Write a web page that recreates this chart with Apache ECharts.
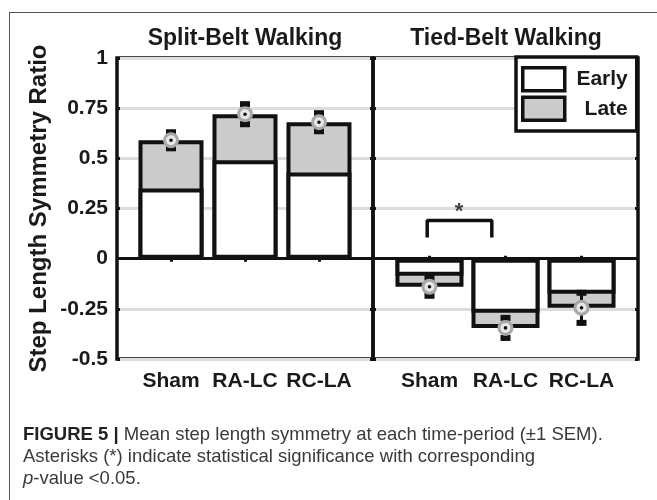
<!doctype html>
<html>
<head>
<meta charset="utf-8">
<title>Step length symmetry</title>
<script src="https://cdn.jsdelivr.net/npm/echarts@6/dist/echarts.min.js"></script>
<style>
  html, body { margin: 0; padding: 0; background: #fff; }
  #main { width: 657px; height: 500px; }
</style>
</head>
<body>
<div id="main"></div>
<script>
  // groups and axis ticks
  var groups = ['Sham', 'RA-LC', 'RC-LA'];
  var groupPos = [1, 2, 3];
  var yTicks = [-0.5, -0.25, 0, 0.25, 0.5, 0.75, 1];

  // split-belt walking: early / late means and SEM of late
  var splitEarly = [0.35, 0.49, 0.43];
  var splitLate = [0.59, 0.72, 0.68];
  var splitSem = [0.045, 0.055, 0.05];

  // tied-belt walking
  var tiedEarly = [-0.085, -0.27, -0.175];
  var tiedLate = [-0.14, -0.345, -0.245];
  var tiedSem = [0.05, 0.055, 0.08];

  // significance bracket (tied, Sham vs RA-LC)
  var bracketX = [0.97, 1.82];
  var bracketY = [0.105, 0.19];
  var starAt = [1.39, 0.235];

  var FONT = '"Liberation Sans", Arial, Helvetica, sans-serif';
  var INK = '#111';
  var TXT = '#1a1a1a';

  function pairs(vals) {
    return vals.map(function (v, i) { return [groupPos[i], v]; });
  }
  function errData(means, sems) {
    return means.map(function (m, i) { return [groupPos[i], m, sems[i]]; });
  }

  function errRender(params, api) {
    var x = api.value(0), m = api.value(1), s = api.value(2);
    var top = api.coord([x, m + s]);
    var bot = api.coord([x, m - s]);
    var mid = api.coord([x, m]);
    return {
      type: 'group',
      children: [
        { type: 'line', shape: { x1: top[0], y1: top[1], x2: bot[0], y2: bot[1] }, style: { stroke: INK, lineWidth: 3 } },
        { type: 'rect', shape: { x: top[0] - 5, y: top[1] - 2, width: 10, height: 6 }, style: { fill: INK } },
        { type: 'rect', shape: { x: bot[0] - 5, y: bot[1] - 4, width: 10, height: 6 }, style: { fill: INK } },
        { type: 'circle', shape: { cx: mid[0], cy: mid[1], r: 6.5 }, style: { fill: '#e8e8e8', stroke: '#a8a8a8', lineWidth: 3 } },
        { type: 'circle', shape: { cx: mid[0], cy: mid[1], r: 1.8 }, style: { fill: INK } }
      ]
    };
  }

  function xAx(grid, min, max, pos, labels) {
    return {
      type: 'value', gridIndex: grid, position: pos, min: min, max: max,
      axisLine: { show: false },
      splitLine: { show: false },
      axisTick: { show: true, inside: true, length: 3, customValues: groupPos, lineStyle: { color: INK, width: 3 } },
      axisLabel: {
        show: labels, customValues: groupPos, margin: 12,
        fontSize: 21, fontWeight: 'bold', fontFamily: FONT, color: TXT,
        formatter: function (v) { return groups[Math.round(v) - 1]; }
      }
    };
  }

  function yAx(grid, pos, labels, split) {
    var a = {
      type: 'value', gridIndex: grid, position: pos,
      min: yTicks[0], max: yTicks[yTicks.length - 1], interval: 0.25,
      axisLine: { show: false },
      axisTick: { show: true, inside: true, length: 3, lineStyle: { color: INK, width: 3 } },
      splitLine: { show: split, lineStyle: { color: '#dcdcdc', width: 3 } },
      axisLabel: { show: labels, margin: 9, fontSize: 21, fontWeight: 'bold', fontFamily: FONT, color: TXT }
    };
    if (labels) {
      a.name = 'Step Length Symmetry Ratio';
      a.nameLocation = 'middle';
      a.nameGap = 66;
      a.nameTextStyle = { fontSize: 24, fontWeight: 'bold', fontFamily: FONT, color: TXT };
    }
    return a;
  }

  var zeroLine = {
    silent: true, symbol: ['none', 'none'],
    label: { show: false },
    lineStyle: { color: INK, width: 3, type: 'solid' },
    data: [{ yAxis: 0 }]
  };

  function panelSeries(idx, early, late, sem, bw) {
    return [
      {
        name: 'Late', type: 'bar', xAxisIndex: idx, yAxisIndex: idx,
        barWidth: bw, barGap: '-100%', data: pairs(late),
        itemStyle: { color: '#cbcbcb', borderColor: INK, borderWidth: 4 }
      },
      {
        name: 'Early', type: 'bar', xAxisIndex: idx, yAxisIndex: idx,
        barWidth: bw, barGap: '-100%', data: pairs(early),
        itemStyle: { color: '#ffffff', borderColor: INK, borderWidth: 4 },
        markLine: zeroLine
      },
      {
        type: 'custom', xAxisIndex: idx, yAxisIndex: idx, clip: false, z: 5,
        data: errData(late, sem), renderItem: errRender
      }
    ];
  }

  var series = panelSeries(0, splitEarly, splitLate, splitSem, 65)
    .concat(panelSeries(1, tiedEarly, tiedLate, tiedSem, 68));

  series.push({
    type: 'line', xAxisIndex: 1, yAxisIndex: 1, symbol: 'none', silent: true,
    lineStyle: { color: INK, width: 3.5 },
    data: [[bracketX[0], bracketY[0]], [bracketX[0], bracketY[1]], [bracketX[1], bracketY[1]], [bracketX[1], bracketY[0]]]
  });
  series.push({
    type: 'scatter', xAxisIndex: 1, yAxisIndex: 1, symbolSize: 0, silent: true,
    data: [starAt],
    label: { show: true, position: 'inside', formatter: '*', fontSize: 22, fontWeight: 'bold', fontFamily: FONT, color: INK }
  });

  var chart = echarts.init(document.getElementById('main'));
  chart.setOption({
    animation: false,
    backgroundColor: '#fff',
    title: [
      { text: 'Split-Belt Walking', left: 245, top: 27, textAlign: 'center', padding: 0,
        textStyle: { fontSize: 23, fontWeight: 'bold', fontFamily: FONT, color: TXT } },
      { text: 'Tied-Belt Walking', left: 506, top: 27, textAlign: 'center', padding: 0,
        textStyle: { fontSize: 23, fontWeight: 'bold', fontFamily: FONT, color: TXT } }
    ],
    grid: [
      { left: 117, top: 58, width: 256, height: 301, show: true, borderColor: INK, borderWidth: 3.5, backgroundColor: 'transparent' },
      { left: 373, top: 58, width: 265, height: 301, show: true, borderColor: INK, borderWidth: 3.5, backgroundColor: 'transparent' }
    ],
    xAxis: [
      xAx(0, 0.27, 3.73, 'bottom', true),
      xAx(1, 0.257, 3.743, 'bottom', true),
      xAx(0, 0.27, 3.73, 'top', false),
      xAx(1, 0.257, 3.743, 'top', false)
    ],
    yAxis: [
      yAx(0, 'left', true, true),
      yAx(1, 'left', false, true),
      yAx(0, 'right', false, false),
      yAx(1, 'right', false, false)
    ],
    legend: {
      data: ['Early', 'Late'],
      orient: 'vertical', left: 516, top: 57,
      padding: [9, 9, 9, 5], itemGap: 3, itemWidth: 42, itemHeight: 23, itemTextGap: 4,
      icon: 'rect', selectedMode: false,
      borderColor: INK, borderWidth: 3.5, backgroundColor: '#fff',
      itemStyle: { borderColor: INK, borderWidth: 3.5 },
      formatter: function (name) { return '{r|' + name + '}'; },
      textStyle: {
        fontSize: 21, fontWeight: 'bold', fontFamily: FONT, color: TXT,
        rich: { r: { width: 58, align: 'right', fontSize: 21, fontWeight: 'bold', fontFamily: FONT, color: TXT } }
      }
    },
    graphic: [
      { type: 'line', shape: { x1: 9, y1: 12.5, x2: 657, y2: 12.5 }, style: { stroke: '#555', lineWidth: 1 } },
      { type: 'line', shape: { x1: 9.5, y1: 12, x2: 9.5, y2: 500 }, style: { stroke: '#555', lineWidth: 1 } },
      {
        type: 'text', left: 23, top: 424,
        style: {
          text: '{b|FIGURE 5 | }Mean step length symmetry at each time-period (\u00b11 SEM).\n' +
                'Asterisks (*) indicate statistical significance with corresponding\n' +
                '{i|p}-value <0.05.',
          font: '18.5px ' + FONT, fill: '#3a3a3a', lineHeight: 22,
          rich: {
            b: { fontWeight: 'bold', fontSize: 18.5, fontFamily: FONT, fill: '#222', lineHeight: 22 },
            i: { fontStyle: 'italic', fontSize: 18.5, fontFamily: FONT, fill: '#3a3a3a', lineHeight: 22 }
          }
        }
      }
    ],
    series: series
  });
</script>
</body>
</html>
